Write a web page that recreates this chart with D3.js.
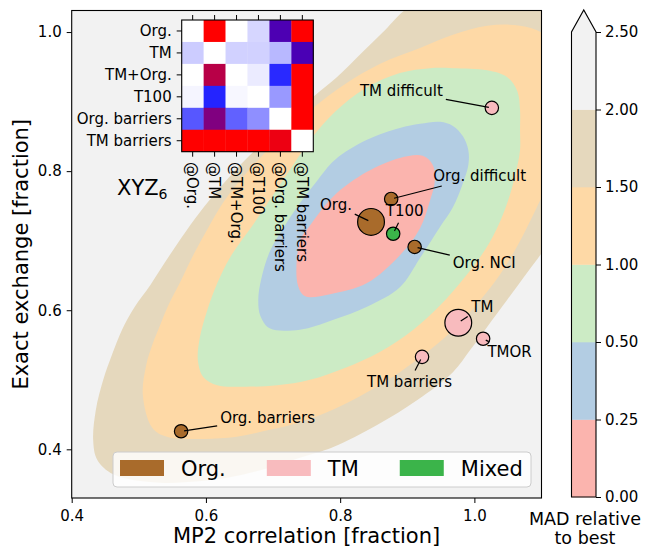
<!DOCTYPE html>
<html>
<head>
<meta charset="utf-8">
<script src="https://cdn.jsdelivr.net/npm/d3@7"></script>
<style>
  body { margin: 0; background: #fff; }
  text { font-family: "DejaVu Sans", sans-serif; fill: #000; }
</style>
</head>
<body>
<svg width="647" height="548"></svg>
<script>
// scatter points
const names = ['Org.', 'Org. difficult', 'T100', 'Org. NCI', 'TM difficult', 'TM', 'TMOR', 'TM barriers', 'Org. barriers'];
const groups = ['Org.', 'Org.', 'Mixed', 'Org.', 'TM', 'TM', 'TM', 'TM', 'Org.'];
const mp2 = [0.846, 0.876, 0.879, 0.911, 1.026, 0.976, 1.013, 0.922, 0.563];
const exx = [0.727, 0.760, 0.710, 0.691, 0.891, 0.582, 0.559, 0.533, 0.426];
const weights = [4, 1, 1, 1, 1, 4, 1, 1, 1];
const legendGroups = ['Org.', 'TM', 'Mixed'];

// contour levels of MAD relative to best, boundaries
const levels = [0, 0.25, 0.5, 1.0, 1.5, 2.0, 2.5];
const contour025 = [[0.736,0.679],[0.742,0.704],[0.755,0.722],[0.789,0.763],[0.840,0.799],[0.889,0.819],[0.923,0.822],[0.938,0.809],[0.941,0.786],[0.934,0.758],[0.919,0.718],[0.889,0.679],[0.840,0.639],[0.785,0.623],[0.748,0.620],[0.737,0.636]];
const contour05 = [[0.678,0.615],[0.682,0.643],[0.695,0.684],[0.715,0.718],[0.740,0.754],[0.764,0.784],[0.792,0.816],[0.840,0.845],[0.889,0.862],[0.919,0.868],[0.949,0.871],[0.968,0.865],[0.983,0.850],[0.991,0.830],[0.991,0.809],[0.983,0.783],[0.968,0.748],[0.949,0.720],[0.919,0.675],[0.889,0.633],[0.840,0.605],[0.789,0.586],[0.740,0.572],[0.695,0.574],[0.681,0.592]];
const contour10 = [[0.588,0.528],[0.591,0.561],[0.602,0.600],[0.617,0.639],[0.636,0.676],[0.673,0.727],[0.703,0.770],[0.730,0.809],[0.758,0.848],[0.792,0.885],[0.837,0.919],[0.889,0.941],[0.934,0.948],[0.968,0.948],[1.019,0.945],[1.049,0.935],[1.064,0.915],[1.068,0.888],[1.068,0.859],[1.068,0.830],[1.062,0.799],[1.053,0.766],[1.038,0.727],[1.016,0.687],[0.982,0.643],[0.949,0.607],[0.909,0.572],[0.859,0.540],[0.807,0.517],[0.755,0.500],[0.706,0.492],[0.655,0.490],[0.617,0.492],[0.596,0.504]];
const contour15 = [[0.506,0.478],[0.511,0.521],[0.520,0.550],[0.532,0.579],[0.543,0.605],[0.561,0.639],[0.581,0.679],[0.603,0.718],[0.628,0.758],[0.651,0.787],[0.678,0.816],[0.710,0.848],[0.760,0.891],[0.807,0.925],[0.859,0.954],[0.919,0.977],[0.968,0.996],[1.019,1.009],[1.068,1.009],[1.105,0.996],[1.128,0.960],[1.135,0.902],[1.131,0.845],[1.116,0.794],[1.102,0.766],[1.086,0.734],[1.065,0.694],[1.038,0.651],[1.005,0.610],[0.971,0.574],[0.934,0.543],[0.889,0.511],[0.840,0.482],[0.789,0.457],[0.740,0.439],[0.695,0.428],[0.646,0.418],[0.596,0.415],[0.542,0.418],[0.520,0.431]];
const contour20 = [[0.432,0.413],[0.436,0.457],[0.447,0.500],[0.460,0.536],[0.475,0.572],[0.494,0.605],[0.517,0.636],[0.539,0.669],[0.564,0.705],[0.591,0.741],[0.618,0.773],[0.651,0.809],[0.684,0.840],[0.721,0.873],[0.760,0.907],[0.795,0.935],[0.833,0.971],[0.867,1.003],[0.897,1.032],[0.949,1.058],[1.053,1.068],[1.128,1.060],[1.172,1.017],[1.187,0.931],[1.180,0.830],[1.150,0.744],[1.117,0.704],[1.098,0.679],[1.078,0.653],[1.049,0.615],[1.019,0.576],[0.994,0.543],[0.968,0.511],[0.915,0.471],[0.855,0.435],[0.789,0.403],[0.740,0.388],[0.681,0.370],[0.631,0.359],[0.532,0.352],[0.462,0.364],[0.438,0.385]];

// inset: transferability of parameters
const heatRows = ['Org.', 'TM', 'TM+Org.', 'T100', 'Org. barriers', 'TM barriers'];
const heatValues = [
  [0.00, 1.00, 0.00, 0.08, 0.65, 1.00],
  [0.10, 0.00, 0.09, 0.09, 0.14, 0.645],
  [0.00, 0.86, 0.00, 0.04, 0.42, 1.00],
  [0.02, 0.43, 0.015, 0.00, 0.20, 1.00],
  [0.33, 0.75, 0.31, 0.22, 0.00, 1.00],
  [1.00, 1.00, 1.00, 1.00, 0.965, 0.00]
];

const labelOffsets = [[-35,-17],[88.5,-23],[11.5,-23],[69.5,16],[-90.5,-17],[24,-16],[26.5,13],[-12.5,25],[86.5,-13]];

const svg = d3.select('svg');
const pL = 71.7, pR = 541.5, pT = 10.5, pB = 498;

const x = d3.scaleLinear().domain([0.4, 1.1]).range([pL, pR]);
const y = d3.scaleLinear().domain([0.33, 1.031]).range([pB, pT]);
const r = d3.scaleSqrt().domain([0, 4]).range([0, 13.4]);
const color = d3.scaleOrdinal().domain(legendGroups).range(['#a96b2b', '#f8bbbe', '#3bb44a']);
const fills = ['#fbb4ae', '#b3cde3', '#ccebc5', '#fed9a6', '#e5d8bd', '#f2f2f2'];

svg.append('clipPath').attr('id', 'plotclip')
  .append('rect').attr('x', pL).attr('y', pT).attr('width', pR - pL).attr('height', pB - pT);

const plot = svg.append('g').attr('clip-path', 'url(#plotclip)');
plot.append('rect')
  .attr('x', pL).attr('y', pT).attr('width', pR - pL).attr('height', pB - pT)
  .attr('fill', fills[5]);

const shape = d3.line()
  .x(d => x(d[0])).y(d => y(d[1]))
  .curve(d3.curveCatmullRomClosed.alpha(0.5));

[contour20, contour15, contour10, contour05, contour025].forEach((c, i) => {
  plot.append('path').attr('d', shape(c)).attr('fill', fills[4 - i]);
});

// axes
const xAxis = svg.append('g')
  .attr('transform', `translate(0, ${pB})`)
  .call(d3.axisBottom(x).tickValues([0.4, 0.6, 0.8, 1.0]).tickFormat(d3.format('.1f')).tickSize(5).tickPadding(7));
const yAxis = svg.append('g')
  .attr('transform', `translate(${pL}, 0)`)
  .call(d3.axisLeft(y).tickValues([0.4, 0.6, 0.8, 1.0]).tickFormat(d3.format('.1f')).tickSize(5).tickPadding(5));
[xAxis, yAxis].forEach(a => {
  a.select('.domain').remove();
  a.selectAll('text').attr('font-size', 15).attr('font-family', 'DejaVu Sans');
  a.selectAll('line').attr('stroke', '#000');
});

svg.append('text')
  .attr('x', (pL + pR) / 2).attr('y', 543)
  .attr('text-anchor', 'middle').attr('font-size', 21)
  .text('MP2 correlation [fraction]');
svg.append('text')
  .attr('transform', `translate(28, ${(pT + pB) / 2}) rotate(-90)`)
  .attr('text-anchor', 'middle').attr('font-size', 21)
  .text('Exact exchange [fraction]');

// points
const idx = d3.range(names.length);
svg.append('g').selectAll('circle')
  .data(idx)
  .join('circle')
    .attr('cx', i => x(mp2[i]))
    .attr('cy', i => y(exx[i]))
    .attr('r', i => r(weights[i]))
    .attr('fill', i => color(groups[i]))
    .attr('stroke', '#000')
    .attr('stroke-width', 1.2);

// annotations
const linesG = svg.append('g');
const textsG = svg.append('g');
idx.forEach(i => {
  const px = x(mp2[i]), py = y(exx[i]);
  const t = textsG.append('text')
    .attr('x', px + labelOffsets[i][0]).attr('y', py + labelOffsets[i][1])
    .attr('dy', '0.35em').attr('text-anchor', 'middle').attr('font-size', 15)
    .text(names[i]);
  const b = t.node().getBBox();
  const bx = b.x + b.width / 2, by = b.y + b.height / 2;
  const dx = px - bx, dy = py - by, len = Math.hypot(dx, dy);
  const tt = Math.min((b.width / 2) / Math.abs(dx), (b.height / 2) / Math.abs(dy));
  linesG.append('line')
    .attr('x1', bx + dx * tt + dx / len * 3).attr('y1', by + dy * tt + dy / len * 3)
    .attr('x2', px - dx / len * 3).attr('y2', py - dy / len * 3)
    .attr('stroke', '#000').attr('stroke-width', 1.2);
});

// legend
const legend = svg.append('g');
legend.append('rect')
  .attr('x', 113).attr('y', 452).attr('width', 418).attr('height', 35)
  .attr('rx', 4).attr('fill', '#fff').attr('fill-opacity', 0.8)
  .attr('stroke', '#cccccc').attr('stroke-width', 1);
let lx = 120;
legendGroups.forEach(gname => {
  legend.append('rect').attr('x', lx).attr('y', 460).attr('width', 44).attr('height', 16)
    .attr('fill', color(gname));
  const lt = legend.append('text').attr('x', lx + 61).attr('y', 476).attr('font-size', 21).text(gname);
  lx = lx + 61 + lt.node().getComputedTextLength() + 41;
});

// frame
svg.append('rect')
  .attr('x', pL).attr('y', pT).attr('width', pR - pL).attr('height', pB - pT)
  .attr('fill', 'none').attr('stroke', '#000').attr('stroke-width', 1.1);

// inset heatmap
const hx = d3.scaleBand().domain(d3.range(6)).range([181.7, 313.3]);
const hy = d3.scaleBand().domain(d3.range(6)).range([20, 151.7]);
const heatColor = d3.scaleLinear().domain([0, 0.5, 1]).range(['#ffffff', '#0000ff', '#ff0000']);
const inset = svg.append('g');
heatValues.forEach((row, i) => {
  inset.selectAll(null).data(row).join('rect')
    .attr('x', (d, j) => hx(j)).attr('y', hy(i))
    .attr('width', hx.bandwidth() + 0.3).attr('height', hy.bandwidth() + 0.3)
    .attr('fill', d => heatColor(d));
});
inset.append('rect')
  .attr('x', 181.7).attr('y', 20).attr('width', 313.3 - 181.7).attr('height', 151.7 - 20)
  .attr('fill', 'none').attr('stroke', '#000').attr('stroke-width', 1.1);
const hyAxis = inset.append('g').attr('transform', 'translate(181.7, 0)')
  .call(d3.axisLeft(hy).tickFormat(i => heatRows[i]).tickSize(5).tickPadding(5));
const hxTop = inset.append('g').attr('transform', 'translate(0, 20)')
  .call(d3.axisTop(hx).tickFormat('').tickSize(5));
const hxBottom = inset.append('g').attr('transform', 'translate(0, 151.7)')
  .call(d3.axisBottom(hx).tickFormat('').tickSize(5));
[hyAxis, hxTop, hxBottom].forEach(a => {
  a.select('.domain').remove();
  a.selectAll('text').attr('font-size', 15).attr('font-family', 'DejaVu Sans');
  a.selectAll('line').attr('stroke', '#000');
});
inset.selectAll('text.col').data(heatRows).join('text')
  .attr('class', 'col')
  .attr('transform', (d, j) => `translate(${hx(j) + hx.bandwidth() / 2}, 162) rotate(90)`)
  .attr('dy', '0.35em').attr('font-size', 15)
  .text(d => '@' + d);

const lab = svg.append('text').attr('x', 117).attr('y', 195).attr('font-size', 21);
lab.append('tspan').text('XYZ');
lab.append('tspan').attr('font-size', 14).attr('dy', 3.5).text('6');

// colorbar
const cbX = 571.5, cbW = 24.5;
const cb = d3.scalePoint().domain(levels).range([497, 32]);
const cbar = svg.append('g');
d3.range(levels.length - 1).forEach(k => {
  cbar.append('rect')
    .attr('x', cbX).attr('y', cb(levels[k + 1]))
    .attr('width', cbW).attr('height', cb(levels[k]) - cb(levels[k + 1]) + 0.3)
    .attr('fill', fills[k]);
});
cbar.append('path')
  .attr('d', `M${cbX},${cb(2.5)}L${cbX + cbW / 2},10L${cbX + cbW},${cb(2.5)}Z`)
  .attr('fill', fills[5]);
cbar.append('path')
  .attr('d', `M${cbX},${cb(0)}L${cbX},${cb(2.5)}L${cbX + cbW / 2},10L${cbX + cbW},${cb(2.5)}L${cbX + cbW},${cb(0)}Z`)
  .attr('fill', 'none').attr('stroke', '#000').attr('stroke-width', 1.1);
const cbAxis = cbar.append('g').attr('transform', `translate(${cbX + cbW}, 0)`)
  .call(d3.axisRight(cb).tickFormat(d3.format('.2f')).tickSize(5).tickPadding(4));
cbAxis.select('.domain').remove();
cbAxis.selectAll('text').attr('font-size', 15).attr('font-family', 'DejaVu Sans');
cbAxis.selectAll('line').attr('stroke', '#000');

svg.append('text').attr('x', 585).attr('y', 525).attr('text-anchor', 'middle').attr('font-size', 17.5).text('MAD relative');
svg.append('text').attr('x', 585).attr('y', 544).attr('text-anchor', 'middle').attr('font-size', 17.5).text('to best');
</script>
</body>
</html>
